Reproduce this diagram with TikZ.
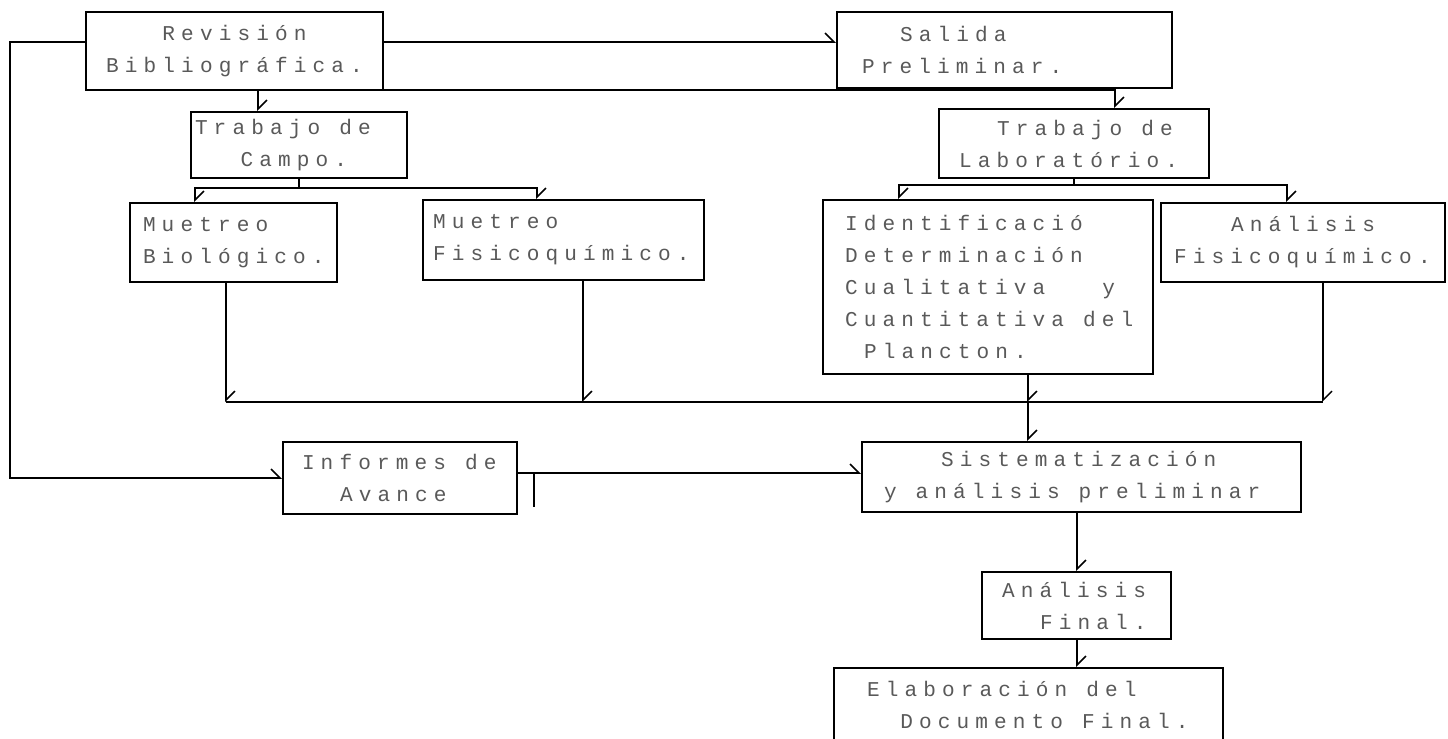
\documentclass[tikz,border=0pt]{standalone}
\usepackage{fontspec}
\usetikzlibrary{arrows.meta}
\newfontfamily\matriz[LetterSpace=29]{Liberation Mono}
\newlength\paso
\setlength\paso{3.8mm}
\newcommand\sangria[1]{\leavevmode\vrule width 0pt\relax\hskip #1\paso\relax}
\tikzset{
  caja/.style={draw, line width=1.2pt, text=black!65, inner ysep=0pt,
    font=\matriz\fontsize{12pt}{18.2pt}\selectfont,
    execute at begin node={\spaceskip=\paso\relax}},
  linea/.style={line width=0.9pt},
  flecha/.style={linea, -{Straight Barb[harpoon, length=1.8mm, width=3.6mm]}}
}
\begin{document}
\begin{tikzpicture}[x=0.2mm, y=-0.2mm]
        \useasboundingbox (0,0) rectangle (1448,738);
        \clip (0,0) rectangle (1448,738);

        % Cajas del flujo
        \node[caja, align=center, minimum height=15.6mm, text width=55.4mm, inner xsep=2mm] (rev) at (234.5,51) {Revisión\\ Bibliográfica.};
        \node[caja, minimum height=15.2mm, text width=57mm, inner xsep=5mm] (sal) at (1004.5,50) {\sangria{2}Salida\\ Preliminar.};
        \node[caja, minimum height=13.2mm, text width=41.6mm, inner xsep=0.8mm] (campo) at (299,145) {Trabajo~de\\ \sangria{2.4}Campo.};
        \node[caja, minimum height=13.8mm, text width=46mm, inner xsep=4mm] (lab) at (1074,143.5) {\sangria{2}Trabajo~de\\ Laboratório.};
        \node[caja, minimum height=15.8mm, text width=36.2mm, inner xsep=2.6mm] (bio) at (233.5,242.5) {Muetreo\\ Biológico.};
        \node[caja, minimum height=16mm, text width=52.2mm, inner xsep=2mm] (fisq) at (563.5,240) {Muetreo\\ Fisicoquímico.};
        \node[caja, minimum height=34.8mm, text width=57.2mm, inner xsep=4.4mm] (ident) at (988,287) {Identificació\\ Determinación\\ Cualitativa\sangria{3}y\\ Cuantitativa~del\\ \sangria{1}Plancton.};
        \node[caja, minimum height=15.8mm, text width=51.6mm, inner xsep=2.6mm] (afis) at (1303,242.5) {\sangria{3}Análisis\\ Fisicoquímico.};
        \node[caja, minimum height=14.4mm, text width=39.2mm, inner xsep=3.8mm] (inf) at (400,478) {Informes~de\\ \sangria{2}Avance};
        \node[caja, minimum height=14mm, text width=79mm, inner xsep=4.4mm] (sis) at (1081.5,477) {\sangria{3}Sistematización\\ y~análisis~preliminar};
        \node[caja, minimum height=13.4mm, text width=29.8mm, inner xsep=4mm] (afin) at (1076.5,605.5) {Análisis\\ \sangria{2}Final.};
        \node[caja, minimum height=14.8mm, text width=64.6mm, inner xsep=6.6mm] (elab) at (1028.5,705) {Elaboración~del\\ \sangria{1.75}Documento~Final.};

        % Puntos de paso de los conectores
        \coordinate (esq) at (10,42);
        \coordinate (jsal) at (953,90);
        \coordinate (xcampo) at (258,0);
        \coordinate (xlab) at (1115,0);
        \coordinate (jcampo) at (299,188);
        \coordinate (xbio) at (195,0);
        \coordinate (xfisq) at (537,0);
        \coordinate (jlab) at (1074,185);
        \coordinate (xident) at (899,0);
        \coordinate (xafis) at (1287,0);
        \coordinate (cA) at (226,402);
        \coordinate (cB) at (583,402);
        \coordinate (cC) at (1028,402);
        \coordinate (cD) at (1323,402);
        \coordinate (yinf) at (0,473);
        \coordinate (marca) at (534,473);
        \coordinate (xfin) at (1077,0);

        % Revision hacia informes y salida
        \draw[flecha] (rev.west |- esq) -- (esq) |- (inf.west);
        \draw[flecha] (rev.east |- esq) -- (sal.west |- esq);

        % Salida hacia los dos trabajos
        \draw[linea] (sal.south -| jsal) -- (jsal);
        \draw[flecha] (jsal) -| (campo.north -| xcampo);
        \draw[flecha] (jsal) -| (lab.north -| xlab);

        % Ramas de campo y laboratorio
        \draw[linea] (campo.south) -- (jcampo);
        \draw[flecha] (jcampo) -| (bio.north -| xbio);
        \draw[flecha] (jcampo) -| (fisq.north -| xfisq);
        \draw[linea] (lab.south) -- (jlab);
        \draw[flecha] (jlab) -| (ident.north -| xident);
        \draw[flecha] (jlab) -| (afis.north -| xafis);

        % Colector hacia la sistematizacion
        \draw[flecha] (bio.south -| cA) -- (cA);
        \draw[flecha] (fisq.south -| cB) -- (cB);
        \draw[flecha] (ident.south -| cC) -- (cC);
        \draw[flecha] (afis.south -| cD) -- (cD);
        \draw[linea] (cA) -- (cD);
        \draw[flecha] (cC) -- (sis.north -| cC);

        % Informes, analisis final y documento
        \draw[flecha] (inf.east |- yinf) -- (sis.west |- yinf);
        \draw[linea] (marca) -- ++(0,34);
        \draw[flecha] (sis.south -| xfin) -- (afin.north -| xfin);
        \draw[flecha] (afin.south -| xfin) -- (elab.north -| xfin);
    \end{tikzpicture}
\end{document}
